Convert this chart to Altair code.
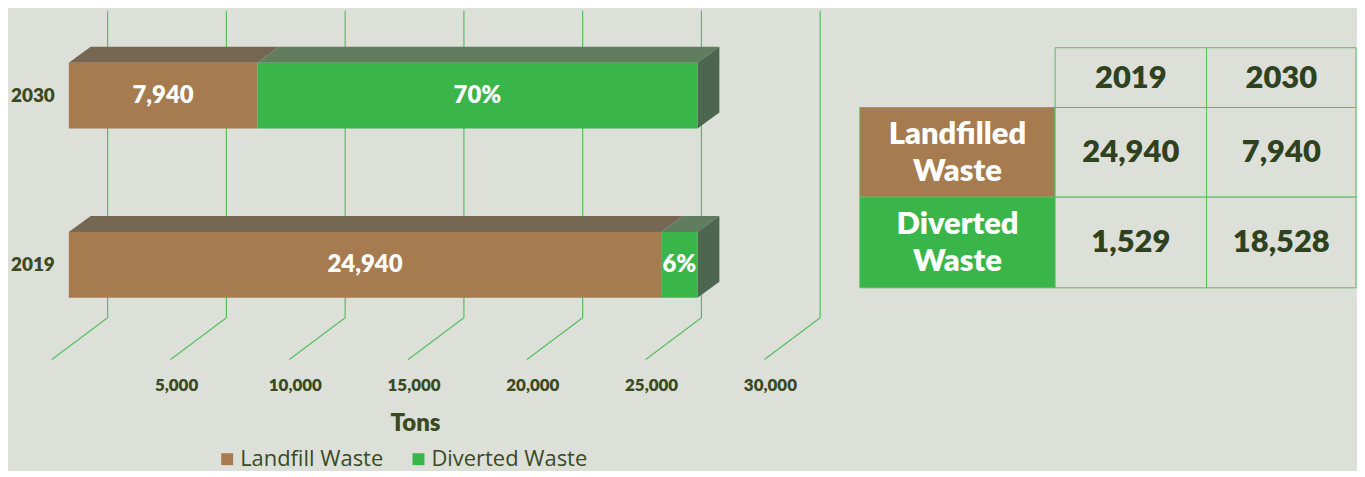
import altair as alt
import pandas as pd

# ---------------- data ----------------
years = ["2030", "2019"]                 # top to bottom in the chart
landfill = [7940, 24940]                 # tons
diverted = [18528, 1529]                 # tons
series = ["Landfill Waste", "Diverted Waste"]
grid_values = [0, 5000, 10000, 15000, 20000, 25000, 30000]
axis_title = "Tons"
table_cols = ["2019", "2030"]
table_rows = ["Landfilled\nWaste", "Diverted\nWaste"]

# ---------------- style ----------------
BG = "#DDE0D9"
BROWN = "#A67B4F"
GREEN = "#3AB54A"
BROWN_TOP = "#766753"
GREEN_TOP = "#607E5F"
GREEN_SIDE = "#4C6650"
GRID = "#55BF5E"
TEXT = "#3A4A23"
TABLE_TEXT = "#2F4220"
FONT = "Lato"
HEAVY = 800

W1, H1 = 834, 456          # left plot
PPT = 119.2 / 5000         # pixels per ton
ZERO_PX = 61               # plot-x of the front-face zero
BAR_DX, BAR_DY = 22, 16    # depth of bars
FLOOR_BACK, FLOOR_FRONT = 39, -17
WALL_TOP, FLOOR_BACK_Y, FLOOR_FRONT_Y = 2, 310, 352
FIRST_CENTER, STEP, HALF = 87, 170, 33


def t(px):
    """pixel offset -> tons"""
    return px / PPT


xscale = alt.Scale(domain=[-t(ZERO_PX), t(W1 - ZERO_PX)], nice=False, zero=False)
yscale = alt.Scale(domain=[0, H1], reverse=True, nice=False, zero=False)

# front faces, top faces, side faces
front, faces = [], []
for i, yr in enumerate(years):
    yc = FIRST_CENTER + i * STEP
    ytop, ybot = yc - HALF, yc + HALF
    total = landfill[i] + diverted[i]
    segs = [(series[0], 0, landfill[i], f"{landfill[i]:,}", BROWN_TOP),
            (series[1], landfill[i], total, f"{round(diverted[i] / total * 100)}%", GREEN_TOP)]
    for s, x0, x1, lab, topc in segs:
        front.append(dict(year=yr, series=s, x0=x0, x1=x1, xm=(x0 + x1) / 2,
                          yt=ytop, yb=ybot, yc=yc, label=lab))
        gid = f"{yr}-{s}-top"
        dx = t(BAR_DX)
        for xx, ya, yb in [(x0, ytop, ytop), (x0 + dx, ytop, ytop - BAR_DY),
                           (x1, ytop, ytop - BAR_DY), (x1 + dx, ytop - BAR_DY, ytop - BAR_DY)]:
            faces.append(dict(gid=gid, x=xx, y=ya, y2=yb, shade=topc))
    gid = f"{yr}-side"
    for xx, ya, yb in [(total, ybot, ytop), (total + t(BAR_DX), ybot - BAR_DY, ytop - BAR_DY)]:
        faces.append(dict(gid=gid, x=xx, y=ya, y2=yb, shade=GREEN_SIDE))

front_df = pd.DataFrame(front)
faces_df = pd.DataFrame(faces)

grid_df = pd.DataFrame({
    "v": grid_values,
    "xb": [v + t(FLOOR_BACK) for v in grid_values],
    "xf": [v + t(FLOOR_FRONT) for v in grid_values],
    "xl": [v + t(FLOOR_FRONT + 6) for v in grid_values],
    "lab": [f"{v:,}" if v > 0 else "" for v in grid_values],
})

year_df = pd.DataFrame({"year": years, "x": [t(-36)] * len(years),
                        "y": [FIRST_CENTER + i * STEP for i in range(len(years))]})

base = alt.Chart(grid_df)
wall = base.mark_rule(color=GRID, strokeWidth=1.2).encode(
    x=alt.X("xb:Q", scale=xscale, axis=None),
    y=alt.Y("y0:Q", scale=yscale, axis=None), y2="y1:Q"
).transform_calculate(y0=str(WALL_TOP), y1=str(FLOOR_BACK_Y))
floor = base.mark_rule(color=GRID, strokeWidth=1.2).encode(
    x=alt.X("xb:Q", scale=xscale, axis=None), x2="xf:Q",
    y=alt.Y("y0:Q", scale=yscale, axis=None), y2="y1:Q"
).transform_calculate(y0=str(FLOOR_BACK_Y), y1=str(FLOOR_FRONT_Y))
ticks = base.mark_text(font=FONT, fontWeight=HEAVY, fontSize=17, color=TEXT,
                       align="center", baseline="middle").encode(
    x=alt.X("xl:Q", scale=xscale, axis=None),
    y=alt.Y("yy:Q", scale=yscale, axis=None), text="lab:N"
).transform_calculate(yy="379")

title = alt.Chart(pd.DataFrame({"t": [axis_title]})).mark_text(
    font=FONT, fontWeight=HEAVY, fontSize=24, color=TEXT, align="center", baseline="middle"
).encode(x=alt.X("xx:Q", scale=xscale, axis=None), y=alt.Y("yy:Q", scale=yscale, axis=None),
         text="t:N").transform_calculate(xx=str(t(409 - ZERO_PX)), yy="417")

face_layer = alt.Chart(faces_df).mark_area(interpolate="linear").encode(
    x=alt.X("x:Q", scale=xscale, axis=None),
    y=alt.Y("y:Q", scale=yscale, axis=None), y2="y2:Q",
    fill=alt.Fill("shade:N", scale=None), detail="gid:N"
)

front_layer = alt.Chart(front_df).mark_rect().encode(
    x=alt.X("x0:Q", scale=xscale, axis=None), x2="x1:Q",
    y=alt.Y("yt:Q", scale=yscale, axis=None), y2="yb:Q",
    color=alt.Color("series:N", scale=alt.Scale(domain=series, range=[BROWN, GREEN]),
                    legend=alt.Legend(title=None, orient="none", legendX=209, legendY=441,
                                      direction="horizontal", symbolType="square",
                                      symbolSize=144, symbolStrokeWidth=0, symbolOpacity=1,
                                      labelFont="Open Sans", labelFontSize=22,
                                      labelColor=TEXT, labelOffset=2, columnPadding=24))
)

bar_text = alt.Chart(front_df).mark_text(font=FONT, fontWeight=HEAVY, fontSize=24,
                                         color="white", align="center", baseline="middle").encode(
    x=alt.X("xm:Q", scale=xscale, axis=None),
    y=alt.Y("yc:Q", scale=yscale, axis=None), text="label:N"
)

year_text = alt.Chart(year_df).mark_text(font=FONT, fontWeight=HEAVY, fontSize=19,
                                         color=TEXT, align="center", baseline="middle").encode(
    x=alt.X("x:Q", scale=xscale, axis=None),
    y=alt.Y("y:Q", scale=yscale, axis=None), text="year:N"
)

left = alt.layer(wall, floor, face_layer, front_layer, bar_text, year_text, ticks, title
                 ).properties(width=W1, height=H1)

# ---------------- table ----------------
WT, HT = 498, 285
col_w = [196, 152, 150]
row_h = [60, 90, 91]
TOP = 39
LINE_H = 37
xe = [0]
for w in col_w:
    xe.append(xe[-1] + w)
ye = [TOP]
for h in row_h:
    ye.append(ye[-1] + h)

vals = {("Landfilled\nWaste", "2019"): landfill[years.index("2019")],
        ("Landfilled\nWaste", "2030"): landfill[years.index("2030")],
        ("Diverted\nWaste", "2019"): diverted[years.index("2019")],
        ("Diverted\nWaste", "2030"): diverted[years.index("2030")]}
cells = []
for j, c in enumerate(table_cols):
    cells.append(dict(x0=xe[j + 1], x1=xe[j + 2], y0=ye[0], y1=ye[1], fill=BG,
                      txt=c, tc=TABLE_TEXT, kind="val"))
for i, r in enumerate(table_rows):
    cells.append(dict(x0=xe[0], x1=xe[1], y0=ye[i + 1], y1=ye[i + 2],
                      fill=[BROWN, GREEN][i], txt=r, tc="white", kind="head"))
    for j, c in enumerate(table_cols):
        cells.append(dict(x0=xe[j + 1], x1=xe[j + 2], y0=ye[i + 1], y1=ye[i + 2], fill=BG,
                          txt=f"{vals[(r, c)]:,}", tc=TABLE_TEXT, kind="val"))
cells_df = pd.DataFrame(cells)
cells_df["xm"] = (cells_df.x0 + cells_df.x1) / 2
cells_df["ym"] = (cells_df.y0 + cells_df.y1) / 2

txs = alt.Scale(domain=[0, WT], nice=False, zero=False)
tys = alt.Scale(domain=[0, HT], reverse=True, nice=False, zero=False)
tbase = alt.Chart(cells_df)
trect = tbase.mark_rect(stroke=GRID, strokeWidth=1).encode(
    x=alt.X("x0:Q", scale=txs, axis=None), x2="x1:Q",
    y=alt.Y("y0:Q", scale=tys, axis=None), y2="y1:Q",
    fill=alt.Fill("fill:N", scale=None)
)
tval = tbase.mark_text(font=FONT, fontWeight=HEAVY, fontSize=31,
                       align="center", baseline="middle", dy=1).encode(
    x=alt.X("xm:Q", scale=txs, axis=None),
    y=alt.Y("ym:Q", scale=tys, axis=None), text="txt:N",
    color=alt.Color("tc:N", scale=None)
).transform_filter(alt.datum.kind == "val")
thead = tbase.mark_text(font=FONT, fontWeight=HEAVY, fontSize=31,
                        lineBreak="\n", lineHeight=LINE_H,
                        align="center", baseline="middle", dy=-LINE_H / 2 + 1).encode(
    x=alt.X("xm:Q", scale=txs, axis=None),
    y=alt.Y("ym:Q", scale=tys, axis=None), text="txt:N",
    color=alt.Color("tc:N", scale=None)
).transform_filter(alt.datum.kind == "head")
table = alt.layer(trect, tval, thead).properties(width=WT, height=HT)

chart = alt.hconcat(left, table, spacing=20).resolve_scale(
    x="independent", y="independent"
).properties(padding=0, background=BG).configure_view(stroke=None)

chart.save("out.html", embed_options={"renderer": "svg", "actions": False})
